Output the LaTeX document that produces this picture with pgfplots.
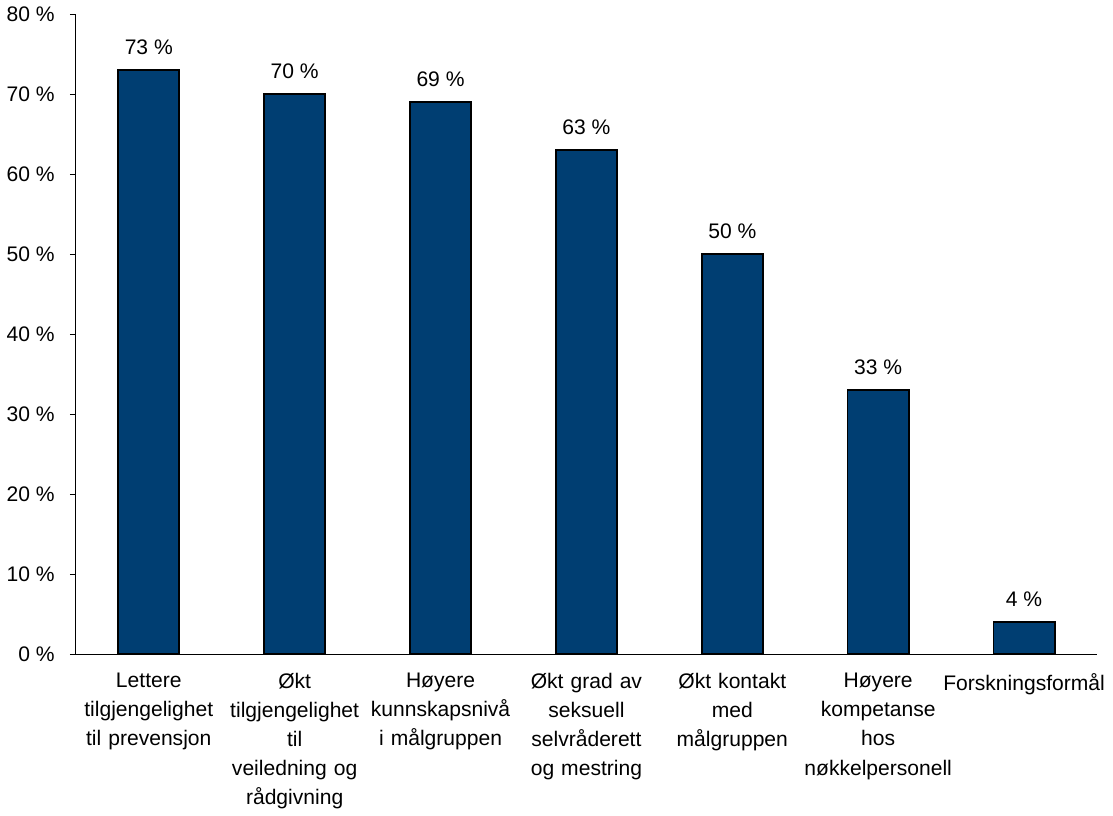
\documentclass[border=0pt]{standalone}
\usepackage{pgfplots}
\pgfplotsset{compat=1.18}
\usepackage{fontspec}
\setmainfont{Liberation Sans}
\definecolor{barblue}{RGB}{0,62,114}
\begin{document}
\begin{tikzpicture}
\begin{axis}[
  scale only axis,
  width=509pt, height=319pt,
  xmin=-0.5, xmax=6.5,
  ymin=0, ymax=80,
  axis lines*=left,
  axis line style={black, line width=0.5pt},
  ytick={0,10,...,80},
  yticklabel={\pgfmathprintnumber{\tick}~\%},
  /pgf/number format/assume math mode=true,
  ytick style={black, line width=0.5pt},
  y tick label style={xshift=-4pt},
  tick align=outside,
  major tick length=3pt,
  xtick={0,1,2,3,4,5,6},
  xticklabels={
    {Lettere\\tilgjengelighet\\til prevensjon},
    {Økt\\tilgjengelighet\\til\\veiledning og\\rådgivning},
    {Høyere\\kunnskapsnivå\\i målgruppen},
    {Økt grad av\\seksuell\\selvråderett\\og mestring},
    {Økt kontakt\\med\\målgruppen},
    {Høyere\\kompetanse\\hos\\nøkkelpersonell},
    {Forskningsformål}},
  x tick label style={align=center, text width=82pt, yshift=-3pt},
  xtick style={draw=none},
  minor xtick={-0.5,0.5,...,6.5},
  minor x tick style={black, line width=0.5pt},
  minor tick length=3pt,
  every tick label/.append style={font=\fontsize{10.5}{14.5}\selectfont},
  ybar, bar width=30.5pt,
  nodes near coords={\pgfmathprintnumber{\pgfplotspointmeta}~\%},
  nodes near coords style={font=\fontsize{10.5}{14.5}\selectfont, yshift=4pt, /pgf/number format/assume math mode=true},
  clip=false,
]
\addplot[fill=barblue, draw=black, line width=0.9pt] coordinates {
  (0,73) (1,70) (2,69) (3,63) (4,50) (5,33) (6,4)
};
\end{axis}
\end{tikzpicture}
\end{document}
